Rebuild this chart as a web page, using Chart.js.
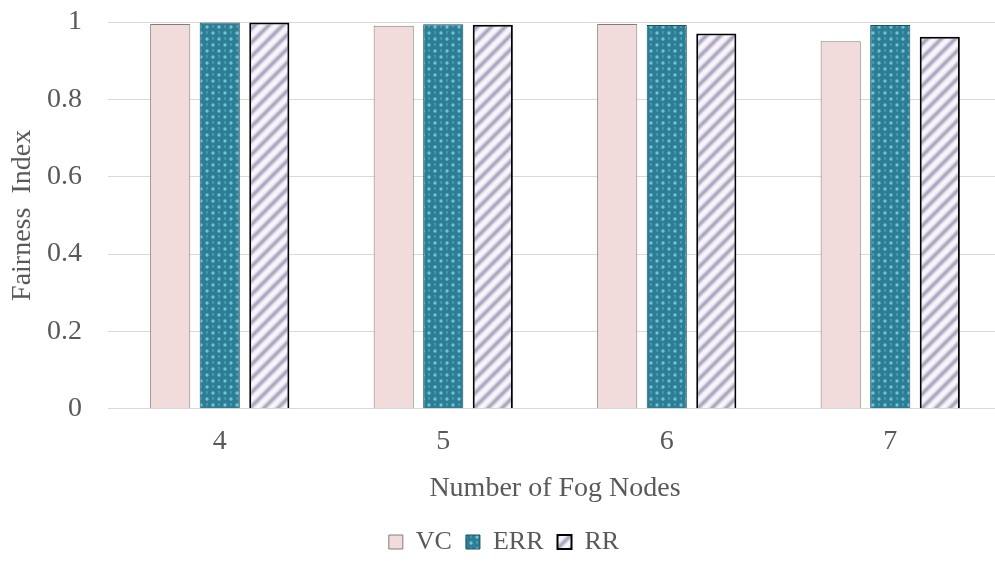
<!DOCTYPE html>
<html>
<head>
<meta charset="utf-8">
<script src="https://cdn.jsdelivr.net/npm/chart.js@4/dist/chart.umd.min.js"></script>
<style>
html,body{margin:0;padding:0;background:#fff;overflow:hidden;}
#wrap{width:1002px;height:567px;position:relative;}
</style>
</head>
<body>
<div id="wrap"><canvas id="c" width="1002" height="567"></canvas></div>
<script>
const categories = ['4', '5', '6', '7'];
const vcValues  = [0.995, 0.990, 0.995, 0.950];
const errValues = [0.999, 0.994, 0.992, 0.992];
const rrValues  = [0.999, 0.993, 0.970, 0.962];
const seriesNames = ['VC', 'ERR', 'RR'];
const yTicks = [0, 0.2, 0.4, 0.6, 0.8, 1];

function dotPattern() {
  const p = document.createElement('canvas');
  p.width = 12; p.height = 12;
  const g = p.getContext('2d');
  g.fillStyle = '#2d7d95';
  g.fillRect(0, 0, 12, 12);
  g.filter = 'blur(0.6px)';
  g.fillStyle = 'rgba(120,210,228,0.85)';
  g.beginPath(); g.arc(3, 3, 1.7, 0, Math.PI * 2); g.fill();
  g.beginPath(); g.arc(9, 9, 1.7, 0, Math.PI * 2); g.fill();
  g.fillStyle = 'rgba(80,160,185,0.7)';
  g.fillRect(2, 7, 2, 3);
  g.fillRect(8, 1, 2, 3);
  return g.createPattern(p, 'repeat');
}
function stripePattern() {
  const p = document.createElement('canvas');
  p.width = 14; p.height = 14;
  const g = p.getContext('2d');
  g.fillStyle = '#f9f5fc';
  g.fillRect(0, 0, 14, 14);
  g.strokeStyle = 'rgba(150,145,172,0.9)';
  g.lineWidth = 3.5;
  g.filter = 'blur(1.2px)';
  for (let k = -2; k <= 2; k++) {
    g.beginPath();
    g.moveTo(k * 14 - 2, 16);
    g.lineTo(k * 14 + 16, -2);
    g.stroke();
  }
  return g.createPattern(p, 'repeat');
}

const textColor = '#595959';
const serif = "'Liberation Serif', 'Times New Roman', serif";
const fs = 28;

new Chart(document.getElementById('c'), {
  type: 'bar',
  data: {
    labels: categories,
    datasets: [
      { label: seriesNames[0], data: vcValues, backgroundColor: '#f1dcdb', borderColor: '#857b7b', borderWidth: 1 },
      { label: seriesNames[1], data: errValues, backgroundColor: dotPattern(), borderColor: '#1d4f60', borderWidth: 1 },
      { label: seriesNames[2], data: rrValues, backgroundColor: stripePattern(), borderColor: '#000000', borderWidth: 2 }
    ]
  },
  options: {
    responsive: false,
    animation: false,
    devicePixelRatio: 1,
    layout: { padding: { top: 22, right: 0, bottom: 2, left: 6 } },
    datasets: { bar: { categoryPercentage: 0.665, barPercentage: 0.81 } },
    scales: {
      x: {
        grid: { display: false },
        border: { display: true, color: '#d9d9d9', width: 1 },
        ticks: { color: textColor, font: { family: serif, size: fs }, padding: 8 },
        title: { display: true, text: 'Number of Fog Nodes', color: textColor, font: { family: serif, size: fs }, padding: { top: 5, bottom: 10 } }
      },
      y: {
        min: 0, max: 1,
        afterBuildTicks: (axis) => { axis.ticks = yTicks.map(v => ({ value: v })); },
        afterFit: (axis) => { axis.width = 102; },
        grid: { color: '#d9d9d9', lineWidth: 1, drawTicks: true, tickLength: 26, tickColor: 'rgba(0,0,0,0)' },
        border: { display: false },
        ticks: { color: textColor, font: { family: serif, size: fs }, padding: 0,
                 callback: (v) => String(v) },
        title: { display: true, text: 'Fairness  Index', color: textColor, font: { family: serif, size: fs }, padding: { top: 0, bottom: 0 } }
      }
    },
    plugins: {
      legend: {
        position: 'bottom',
        labels: { color: textColor, font: { family: serif, size: 26 }, boxWidth: 14, boxHeight: 14, padding: 14 }
      },
      tooltip: { enabled: false }
    }
  }
});
</script>
</body>
</html>
